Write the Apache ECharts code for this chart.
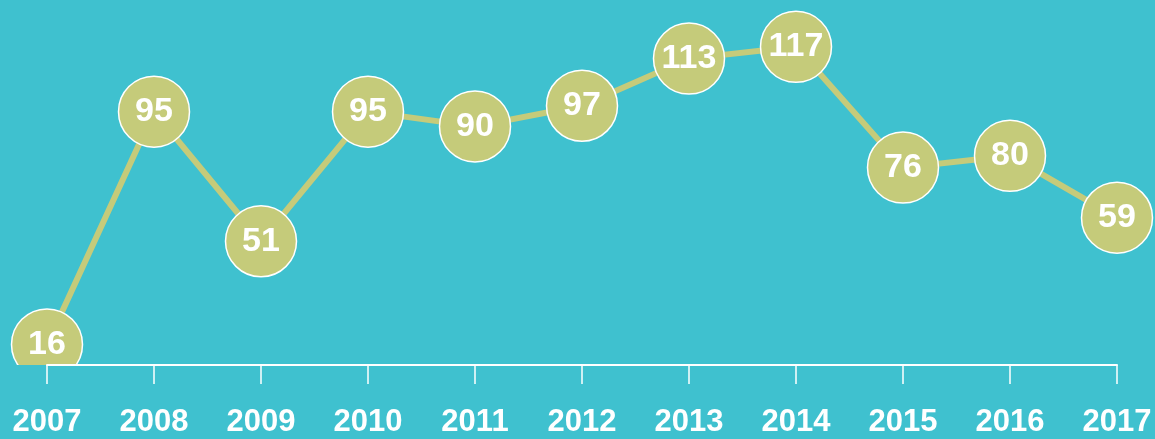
<!DOCTYPE html>
<html>
<head>
<meta charset="utf-8">
<script src="https://cdn.jsdelivr.net/npm/echarts@6/dist/echarts.min.js"></script>
<style>
  html, body { margin: 0; padding: 0; background: #3FC1CF; }
  #main { width: 1155px; height: 439px; }
</style>
</head>
<body>
<div id="main"></div>
<script>
var years = ['2007', '2008', '2009', '2010', '2011', '2012', '2013', '2014', '2015', '2016', '2017'];
var counts = [16, 95, 51, 95, 90, 97, 113, 117, 76, 80, 59];

var bg = '#3FC1CF';
var olive = '#C5CB7A';

var myChart = echarts.init(document.getElementById('main'));
var option = {
    backgroundColor: bg,
    animation: false,
    grid: {
        left: 47,
        right: 38,
        top: 38,
        bottom: 74
    },
    // covers the part of a circle that hangs below the axis line
    graphic: [{
        type: 'rect',
        left: 0,
        bottom: 0,
        z: 3,
        shape: { width: 1155, height: 74 },
        style: { fill: bg }
    }],
    xAxis: {
        type: 'category',
        boundaryGap: false,
        data: years,
        z: 5,
        axisLine: { lineStyle: { color: '#fff', width: 2 } },
        axisTick: { length: 19, lineStyle: { color: '#fff', width: 1.5 } },
        axisLabel: {
            color: '#fff',
            fontSize: 31,
            fontWeight: 'bold',
            fontFamily: 'Liberation Sans, Arial, sans-serif',
            margin: 42
        },
        splitLine: { show: false }
    },
    yAxis: {
        type: 'value',
        min: 9,
        max: 120,
        show: false
    },
    series: [{
        type: 'line',
        data: counts,
        z: 2,
        symbol: 'circle',
        symbolSize: 71,
        lineStyle: { color: olive, width: 6 },
        itemStyle: { color: olive, borderColor: '#fff', borderWidth: 1.5 },
        label: {
            show: true,
            position: 'inside',
            color: '#fff',
            fontSize: 34,
            fontWeight: 'bold',
            fontFamily: 'Liberation Sans, Arial, sans-serif'
        }
    }]
};
myChart.setOption(option);
</script>
</body>
</html>
